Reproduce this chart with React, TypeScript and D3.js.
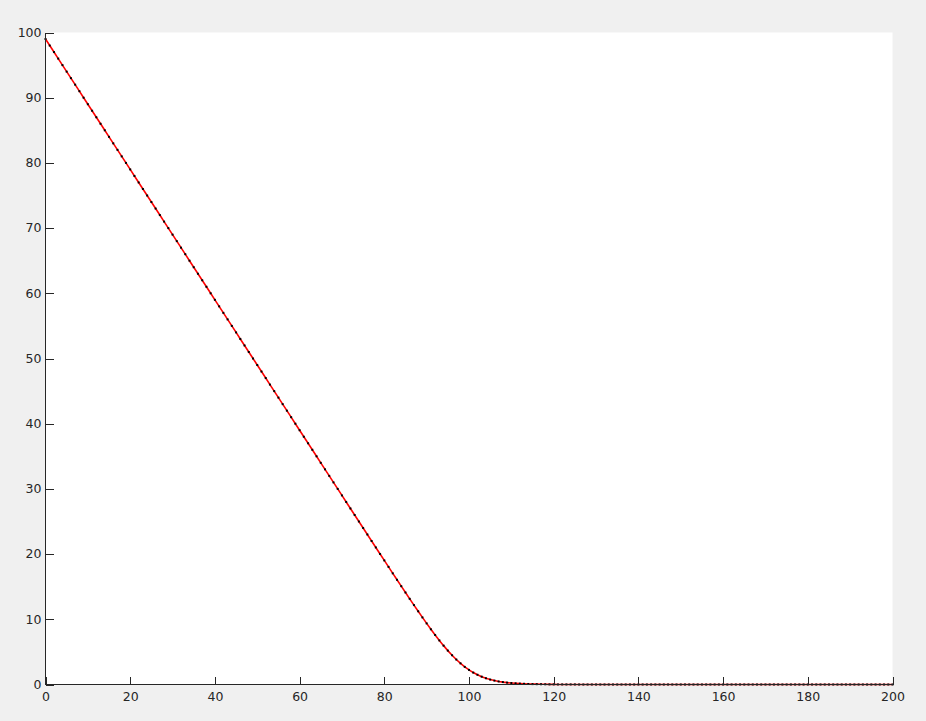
import React from "react";
import * as d3 from "d3";

// x runs 0..200 in steps of 1 (tail is ~0 past 125)
const head: number[] = [
  99, 98, 97, 96, 95, 94, 93, 92, 91, 90,
  89, 88, 87, 86, 85, 84, 83, 82, 81, 80,
  79, 78, 77, 76, 75, 74, 73, 72, 71, 70,
  69, 68, 67, 66, 65, 64, 63, 62, 61, 60,
  59, 58, 57, 56, 55, 54, 53, 52, 51, 50,
  49, 48, 47, 46, 45, 44, 43, 42, 41, 40,
  39, 38, 37, 36, 35, 34, 33, 32, 31, 30,
  29, 28, 27, 26, 25, 24.01, 23.01, 22.01, 21.02, 20.02,
  19.03, 18.04, 17.05, 16.06, 15.08, 14.11, 13.14, 12.18, 11.23, 10.29,
  9.37, 8.47, 7.6, 6.76, 5.96, 5.2, 4.49, 3.83, 3.24, 2.7,
  2.24, 1.83, 1.49, 1.2, 0.96, 0.76, 0.6, 0.47, 0.37, 0.29,
  0.23, 0.18, 0.14, 0.11, 0.08, 0.06, 0.05, 0.04, 0.03, 0.02,
  0.02, 0.01, 0.01, 0.01, 0.01, 0.01,
];
const tail: number[] = new Array(201 - head.length).fill(0);
const yValues: number[] = head.concat(tail);
const xValues: number[] = yValues.map((_, i) => i);

const xTicks = [0, 20, 40, 60, 80, 100, 120, 140, 160, 180, 200];
const yTicks = [0, 10, 20, 30, 40, 50, 60, 70, 80, 90, 100];

const W = 926;
const H = 721;
const left = 45.5;
const right = 892.5;
const top = 32.5;
const bottom = 684.5;
const tickLen = 8;
const ink = "#262626";
const font = "'DejaVu Sans', sans-serif";

export default function App() {
  const x = d3.scaleLinear().domain([0, 200]).range([left, right]);
  const y = d3.scaleLinear().domain([0, 100]).range([bottom, top]);

  const pts = xValues.map((v, i) => [v, yValues[i]] as [number, number]);
  const line = d3
    .line<[number, number]>()
    .x(d => x(d[0]))
    .y(d => y(d[1]));

  return (
    <svg
      width={W}
      height={H}
      style={{ position: "absolute", left: 0, top: 0, display: "block" }}
    >
      <rect x={0} y={0} width={W} height={H} fill="#f0f0f0" />
      <rect x={left} y={top} width={right - left} height={bottom - top} fill="#ffffff" />

      <path d={line(pts) ?? ""} fill="none" stroke="#ff0000" strokeWidth={1.6} />
      <g fill="#000000">
        {pts.map((p, i) => (
          <rect key={i} x={x(p[0]) - 1} y={y(p[1]) - 1} width={2} height={2} />
        ))}
      </g>

      {/* axes */}
      <g stroke={ink} strokeWidth={1} fill="none" shapeRendering="crispEdges">
        <line x1={left} x2={left} y1={top} y2={bottom} />
        <line x1={left} x2={right} y1={bottom} y2={bottom} />
        {xTicks.map(t => (
          <line key={"xt" + t} x1={Math.round(x(t)) + 0.5} x2={Math.round(x(t)) + 0.5} y1={bottom} y2={bottom - tickLen} />
        ))}
        {yTicks.map(t => (
          <line key={"yt" + t} x1={left} x2={left + tickLen} y1={Math.round(y(t)) + 0.5} y2={Math.round(y(t)) + 0.5} />
        ))}
      </g>

      <g fill={ink} fontFamily={font} fontSize={12.5}>
        {xTicks.map(t => (
          <text key={"xl" + t} x={x(t) + 0.5} y={bottom + 16.5} textAnchor="middle">
            {t}
          </text>
        ))}
        {yTicks.map(t => (
          <text key={"yl" + t} x={left - 4} y={y(t)} dy="0.35em" textAnchor="end">
            {t}
          </text>
        ))}
      </g>
    </svg>
  );
}
